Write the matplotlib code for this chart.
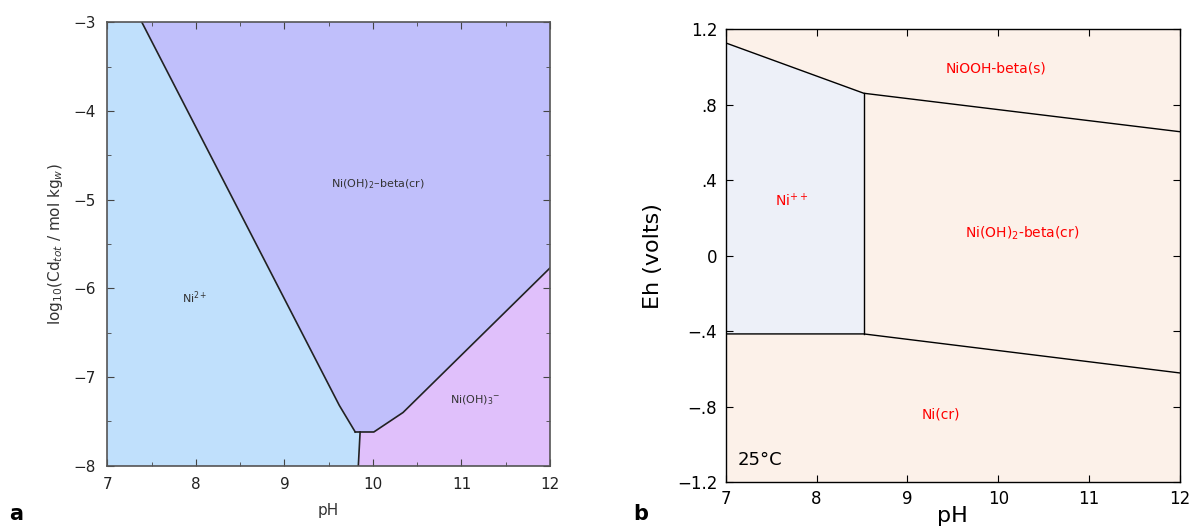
import matplotlib
matplotlib.use('Agg')
import matplotlib.pyplot as plt
from matplotlib.ticker import MultipleLocator

# ---- panel a: log activity vs pH ----
ni2_bound_ph = [7.39, 9.62, 9.74, 9.80]
ni2_bound_log = [-3.0, -7.32, -7.52, -7.62]
flat_ph = [9.80, 10.01, 10.34, 12.0]
flat_log = [-7.62, -7.62, -7.40, -5.77]
vert_ph = [9.855, 9.835]
vert_log = [-7.62, -8.0]

a_labels = ['Ni$^{2+}$', 'Ni(OH)$_2$\u2013beta(cr)', 'Ni(OH)$_3$$^{-}$']
a_label_ph = [7.99, 10.06, 11.16]
a_label_log = [-6.11, -4.83, -7.26]

# ---- panel b: Eh-pH ----
top_ph = [7.0, 8.52, 12.0]
top_eh = [1.128, 0.861, 0.657]
bot_ph = [7.0, 8.52, 12.0]
bot_eh = [-0.415, -0.415, -0.622]

b_labels = ['NiOOH-beta(s)', 'Ni$^{++}$', 'Ni(OH)$_2$-beta(cr)', 'Ni(cr)']
b_label_ph = [9.98, 7.73, 10.26, 9.37]
b_label_eh = [0.99, 0.292, 0.116, -0.844]
b_yticks = [1.2, 0.8, 0.4, 0, -0.4, -0.8, -1.2]
b_yticklabels = ['1.2', '.8', '.4', '0', '\u2212.4', '\u2212.8', '\u22121.2']

fig = plt.figure(figsize=(11.9, 5.31), dpi=100)

# panel a
ax1 = fig.add_axes([0.0902, 0.123, 0.372, 0.835])
ax1.set_facecolor('#c0bffb')
poly_ph = [7.0] + ni2_bound_ph + vert_ph + [7.0]
poly_log = [-3.0] + ni2_bound_log + vert_log + [-8.0]
ax1.fill(poly_ph, poly_log, color='#c0e0fc', lw=0)
p3_ph = vert_ph + [12.0] + flat_ph[::-1][:-1]
p3_log = vert_log + [-8.0] + flat_log[::-1][:-1]
ax1.fill(p3_ph, p3_log, color='#e0c0fb', lw=0)
ax1.plot(ni2_bound_ph, ni2_bound_log, color='#222222', lw=1.2)
ax1.plot(flat_ph, flat_log, color='#222222', lw=1.2)
ax1.plot(vert_ph, vert_log, color='#222222', lw=1.2)
for t, x, y in zip(a_labels, a_label_ph, a_label_log):
    ax1.text(x, y, t, fontsize=8, color='#333333', ha='center', va='center')
ax1.set_xlim(7, 12)
ax1.set_ylim(-8, -3)
ax1.xaxis.set_major_locator(MultipleLocator(1))
ax1.xaxis.set_minor_locator(MultipleLocator(0.5))
ax1.yaxis.set_major_locator(MultipleLocator(1))
ax1.yaxis.set_minor_locator(MultipleLocator(0.5))
ax1.tick_params(which='both', direction='in', top=True, right=True,
                color='#444444', labelsize=11, labelcolor='#222222')
ax1.tick_params(which='major', length=5, pad=8)
ax1.tick_params(which='minor', length=3)
for s in ax1.spines.values():
    s.set_color('#555555')
    s.set_linewidth(1.2)
ax1.set_xlabel('pH', fontsize=11, color='#333333', labelpad=8)
ax1.set_ylabel('log$_{10}$(Cd$_{tot}$ / mol kg$_{w}$)', fontsize=11, color='#333333', labelpad=6)

# panel b
ax2 = fig.add_axes([0.6098, 0.0923, 0.3818, 0.8525])
ax2.set_facecolor('#fcf1e9')
ax2.fill(top_ph[:2] + bot_ph[:2][::-1], top_eh[:2] + bot_eh[:2][::-1], color='#edf0f8', lw=0)
ax2.plot(top_ph, top_eh, color='black', lw=1)
ax2.plot(bot_ph, bot_eh, color='black', lw=1)
ax2.plot([top_ph[1], bot_ph[1]], [top_eh[1], bot_eh[1]], color='black', lw=1)
for t, x, y in zip(b_labels, b_label_ph, b_label_eh):
    ax2.text(x, y, t, fontsize=10, color='red', ha='center', va='center')
ax2.text(7.13, -1.085, '25\u00b0C', fontsize=13, color='black', ha='left', va='center')
ax2.set_xlim(7, 12)
ax2.set_ylim(-1.2, 1.2)
ax2.set_xticks([7, 8, 9, 10, 11, 12])
ax2.set_yticks(b_yticks)
ax2.set_yticklabels(b_yticklabels)
ax2.tick_params(direction='in', top=True, right=True, length=5, labelsize=12, pad=6)
for s in ax2.spines.values():
    s.set_linewidth(1)
ax2.set_xlabel('pH', fontsize=16, labelpad=-2)
ax2.set_ylabel('Eh (volts)', fontsize=16, labelpad=10)

fig.text(0.008, 0.02, 'a', fontsize=15, fontweight='bold')
fig.text(0.532, 0.02, 'b', fontsize=15, fontweight='bold')

fig.savefig('out.png', dpi=100)
